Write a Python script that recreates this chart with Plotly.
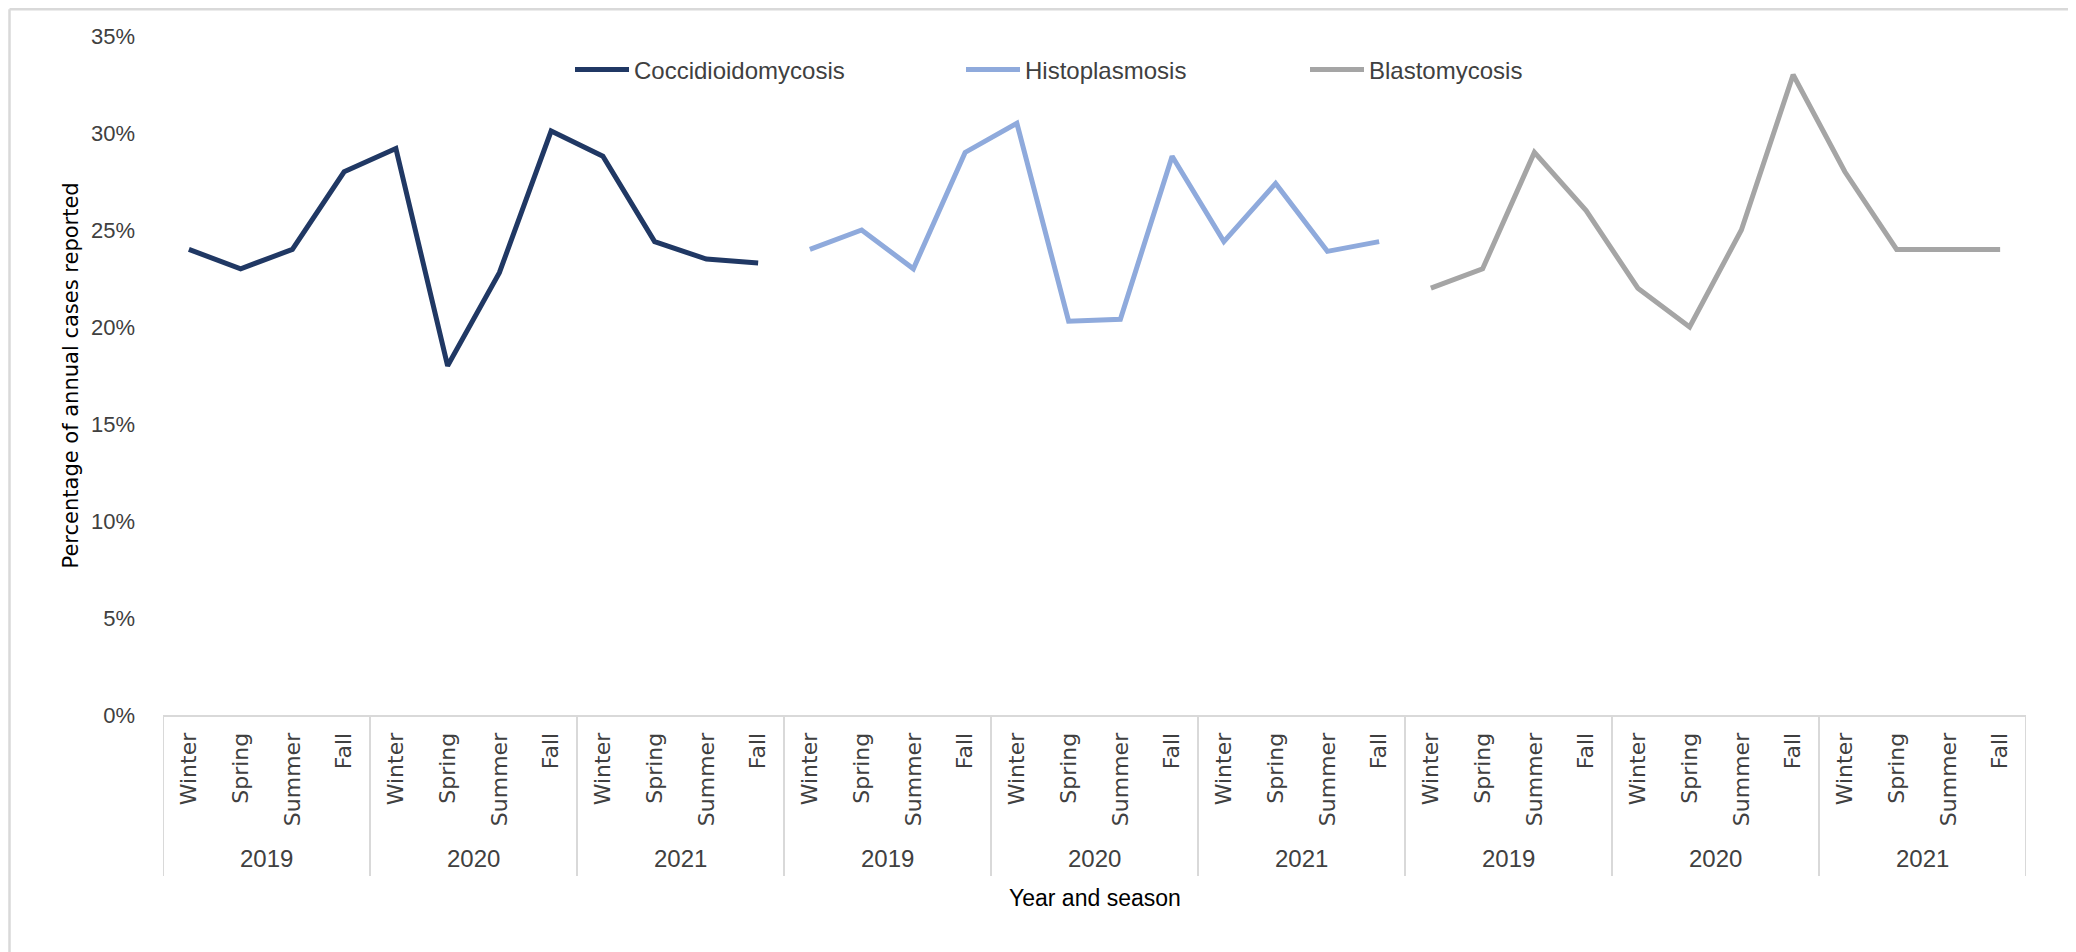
import plotly.graph_objects as go

# ---------------- data ----------------
diseases = ["Coccidioidomycosis", "Histoplasmosis", "Blastomycosis"]
years = ["2019", "2020", "2021"]
seasons = ["Winter", "Spring", "Summer", "Fall"]

cocci = [24.0, 23.0, 24.0, 28.0, 29.2, 18.0, 22.8, 30.1, 28.8, 24.4, 23.5, 23.3]
histo = [24.0, 25.0, 23.0, 29.0, 30.5, 20.3, 20.4, 28.8, 24.4, 27.4, 23.9, 24.4]
blasto = [22.0, 23.0, 29.0, 26.0, 22.0, 20.0, 25.0, 33.0, 28.0, 24.0, 24.0, 24.0]

y_ticks = [0, 5, 10, 15, 20, 25, 30, 35]
y_tick_labels = [f"{v}%" for v in y_ticks]

series_values = [cocci, histo, blasto]
colors = ["#203864", "#8FAADC", "#A5A5A5"]

# ---------------- layout constants ----------------
# page body has an 8px default margin: work in screen pixels, convert to figure pixels
OFF = 8
SCREEN_W, SCREEN_H = 2076, 952
W, H = SCREEN_W - OFF, SCREEN_H - OFF
PLOT_L, PLOT_R, PLOT_T, PLOT_B = 163, 2026, 36, 715   # screen px
ML = PLOT_L - OFF
MR = W - (PLOT_R - OFF)
MT = PLOT_T - OFF
MB = H - (PLOT_B - OFF)
PW, PH = W - ML - MR, H - MT - MB
TEXT = "#404040"
GRID = "#D9D9D9"


def px_to_paper_x(px):
    return (px - OFF - ML) / PW


def px_to_paper_y(py):
    return (H - MB - (py - OFF)) / PH


# category ids (unique) and their visible season labels
cat_ids, cat_text = [], []
for d in diseases:
    for yr in years:
        for s in seasons:
            cat_ids.append(f"{d}|{yr}|{s}")
            cat_text.append(s)

fig = go.Figure()
legend_names = ["legend", "legend2", "legend3"]
for i, d in enumerate(diseases):
    xs = [f"{d}|{yr}|{s}" for yr in years for s in seasons]
    fig.add_trace(go.Scatter(
        x=xs, y=series_values[i], mode="lines", name=d,
        line=dict(color=colors[i], width=5),
        legend=legend_names[i], hoverinfo="x+y",
    ))

# dividers between year groups
shapes = []
n_groups = len(diseases) * len(years)
for g in range(n_groups + 1):
    xpos = g * len(seasons) - 0.5
    shapes.append(dict(type="line", xref="x", yref="paper",
                       x0=xpos, x1=xpos, y0=0, y1=px_to_paper_y(876),
                       line=dict(color=GRID, width=2)))
# outer chart border (left & top)
BORDER_TOP = OFF + 1.2
shapes.append(dict(type="line", xref="paper", yref="paper",
                   x0=px_to_paper_x(9.5), x1=px_to_paper_x(9.5),
                   y0=px_to_paper_y(BORDER_TOP), y1=px_to_paper_y(980),
                   line=dict(color=GRID, width=2.5)))
shapes.append(dict(type="line", xref="paper", yref="paper",
                   x0=px_to_paper_x(9.5), x1=px_to_paper_x(2100),
                   y0=px_to_paper_y(BORDER_TOP), y1=px_to_paper_y(BORDER_TOP),
                   line=dict(color=GRID, width=2.5)))

annotations = []
g = 0
for d in diseases:
    for yr in years:
        annotations.append(dict(
            x=g * len(seasons) + (len(seasons) - 1) / 2, xref="x",
            y=px_to_paper_y(859), yref="paper", text=yr, showarrow=False,
            xanchor="center", yanchor="middle",
            font=dict(family="Liberation Sans, Arial, sans-serif", size=24, color=TEXT)))
        g += 1

annotations.append(dict(
    x=0.5, xref="paper", y=px_to_paper_y(898), yref="paper",
    text="Year and season", showarrow=False, xanchor="center", yanchor="middle",
    font=dict(family="Liberation Sans, Arial, sans-serif", size=23, color="#000000")))

annotations.append(dict(
    x=px_to_paper_x(70), xref="paper", y=0.5, yref="paper",
    text="Percentage of annual cases reported", showarrow=False, textangle=-90,
    xanchor="center", yanchor="middle",
    font=dict(family="DejaVu Sans, Verdana, sans-serif", size=21, color="#000000")))

legend_common = dict(orientation="h", yanchor="middle", xanchor="left",
                     y=px_to_paper_y(70), itemwidth=54, bgcolor="rgba(0,0,0,0)",
                     font=dict(family="Liberation Sans, Arial, sans-serif", size=24, color=TEXT))
legend_lefts = [570, 961, 1305]   # screen px

fig.update_layout(
    width=W, height=H,
    margin=dict(l=ML, r=MR, t=MT, b=MB, autoexpand=False),
    paper_bgcolor="white", plot_bgcolor="white",
    showlegend=True,
    legend=dict(x=px_to_paper_x(legend_lefts[0]), **legend_common),
    legend2=dict(x=px_to_paper_x(legend_lefts[1]), **legend_common),
    legend3=dict(x=px_to_paper_x(legend_lefts[2]), **legend_common),
    xaxis=dict(type="category", categoryorder="array", categoryarray=cat_ids,
               tickvals=cat_ids, ticktext=cat_text, tickangle=-90,
               range=[-0.5, len(cat_ids) - 0.5],
               showgrid=False, zeroline=False, showline=True,
               linecolor=GRID, linewidth=2, ticks="", ticklabelstandoff=7,
               tickfont=dict(family="DejaVu Sans, Verdana, sans-serif", size=22, color=TEXT),
               automargin=False),
    yaxis=dict(range=[0, 35], tickvals=y_ticks, ticktext=y_tick_labels,
               showgrid=False, zeroline=False, showline=False, ticks="",
               ticklabelstandoff=27,
               tickfont=dict(family="Liberation Sans, Arial, sans-serif", size=22, color=TEXT),
               automargin=False),
    shapes=shapes,
    annotations=annotations,
)

fig.write_html("out.html")
